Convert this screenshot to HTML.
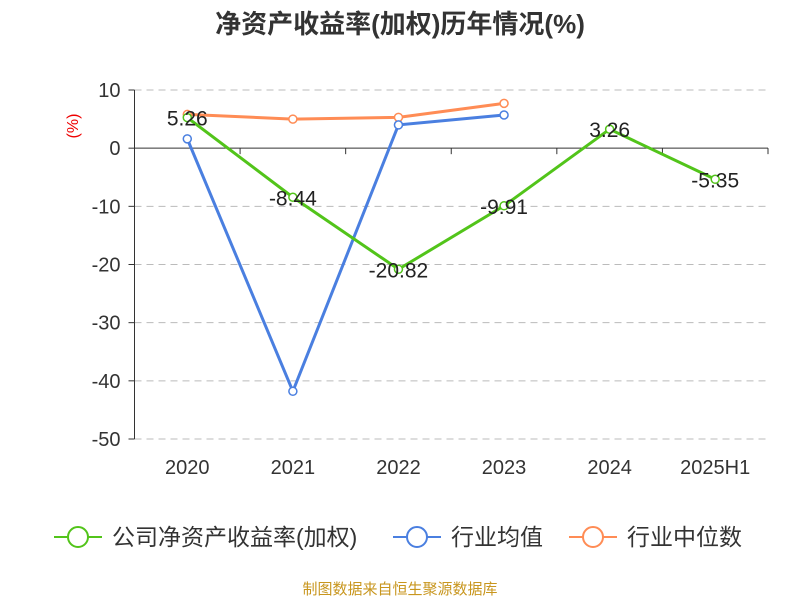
<!DOCTYPE html>
<html><head><meta charset="utf-8">
<style>
body{margin:0;background:#fff;font-family:"Liberation Sans","Noto Sans CJK SC",sans-serif;}
</style></head>
<body>
<svg id="chart" width="800" height="600" xmlns="http://www.w3.org/2000/svg" font-family="Liberation Sans, Noto Sans CJK SC, sans-serif">
<text x="400" y="33" text-anchor="middle" font-size="26" font-weight="bold" fill="#333">净资产收益率(加权)历年情况(%)</text>
<text x="78" y="126" font-size="16" fill="#e00" transform="rotate(-90 78 126)" text-anchor="middle">(%)</text>
<g id="grid"></g><g id="axes"></g><g id="series"></g>
<g font-size="23" fill="#333">
<g><line x1="54" y1="537" x2="102" y2="537" stroke="#52c41a" stroke-width="2"/><circle cx="78" cy="537" r="10" fill="#fff" stroke="#52c41a" stroke-width="2"/><text x="112" y="545">公司净资产收益率(加权)</text></g>
<g><line x1="393" y1="537" x2="441" y2="537" stroke="#4a7fe0" stroke-width="2"/><circle cx="417" cy="537" r="10" fill="#fff" stroke="#4a7fe0" stroke-width="2"/><text x="451" y="545">行业均值</text></g>
<g><line x1="569" y1="537" x2="617" y2="537" stroke="#ff8c55" stroke-width="2"/><circle cx="593" cy="537" r="10" fill="#fff" stroke="#ff8c55" stroke-width="2"/><text x="627" y="545">行业中位数</text></g>
</g>
<text x="400" y="594" text-anchor="middle" font-size="15" fill="#c8961e">制图数据来自恒生聚源数据库</text>
</svg>
<script>
const categories=["2020","2021","2022","2023","2024","2025H1"];
const companyValues=[5.26,-8.44,-20.82,-9.91,3.26,-5.35];
const industryAvg=[1.6,-41.8,4.0,5.7];
const industryMedian=[5.8,5.0,5.3,7.7];
const yTicks=[10,0,-10,-20,-30,-40,-50];
const NS="http://www.w3.org/2000/svg";
const x0=134.5,x1=768,yTop=90,yBot=439,vMax=10,vMin=-50;
const bw=(x1-x0)/categories.length;
const xs=i=>x0+bw*(i+0.5);
const ys=v=>yTop+(vMax-v)/(vMax-vMin)*(yBot-yTop);
function mk(tag,attrs,parent){const e=document.createElementNS(NS,tag);for(const k in attrs)e.setAttribute(k,attrs[k]);parent.appendChild(e);return e;}
const grid=document.getElementById('grid'),axes=document.getElementById('axes'),ser=document.getElementById('series');
yTicks.forEach(t=>{
  if(t!==0){const g=mk('line',{x1:x0,x2:x1,y1:ys(t),y2:ys(t),stroke:'#bbb','stroke-dasharray':'7,5'},grid);
  
  }
  const tk=mk('line',{x1:x0-6,x2:x0,y1:ys(t),y2:ys(t),stroke:'#333'},axes);
  
  
  const l=mk('text',{x:x0-14,y:ys(t)+7,'text-anchor':'end','font-size':20,fill:'#333'},axes);
  l.textContent=t;
  
  
});
const ya=mk('line',{x1:x0,x2:x0,y1:yTop,y2:yBot,stroke:'#333'},axes);


const xa=mk('line',{x1:x0,x2:x1,y1:ys(0),y2:ys(0),stroke:'#333'},axes);


for(let i=0;i<=categories.length;i++){const t=mk('line',{x1:x0+bw*i,x2:x0+bw*i,y1:ys(0),y2:ys(0)+6,stroke:'#333'},axes);

}
categories.forEach((c,i)=>{const l=mk('text',{x:xs(i),y:474,'text-anchor':'middle','font-size':20,fill:'#333'},axes);l.textContent=c;

});
function series(vals,color,name){
  const p=mk('polyline',{points:vals.map((v,i)=>xs(i)+','+ys(v)).join(' '),fill:'none',stroke:color,'stroke-width':3},ser);
  
  
  vals.forEach((v,i)=>{const c=mk('circle',{cx:xs(i),cy:ys(v),r:4,fill:'#fff',stroke:color,'stroke-width':1.5},ser);
  
  });
}
series(industryMedian,'#ff8c55','industry-median');
series(industryAvg,'#4a7fe0','industry-avg');
series(companyValues,'#52c41a','company-roe');
companyValues.forEach((v,i)=>{const l=mk('text',{x:xs(i),y:ys(v)+8,'text-anchor':'middle','font-size':21,fill:'#222'},ser);l.textContent=v.toFixed(2);

});
</script>
</body></html>
